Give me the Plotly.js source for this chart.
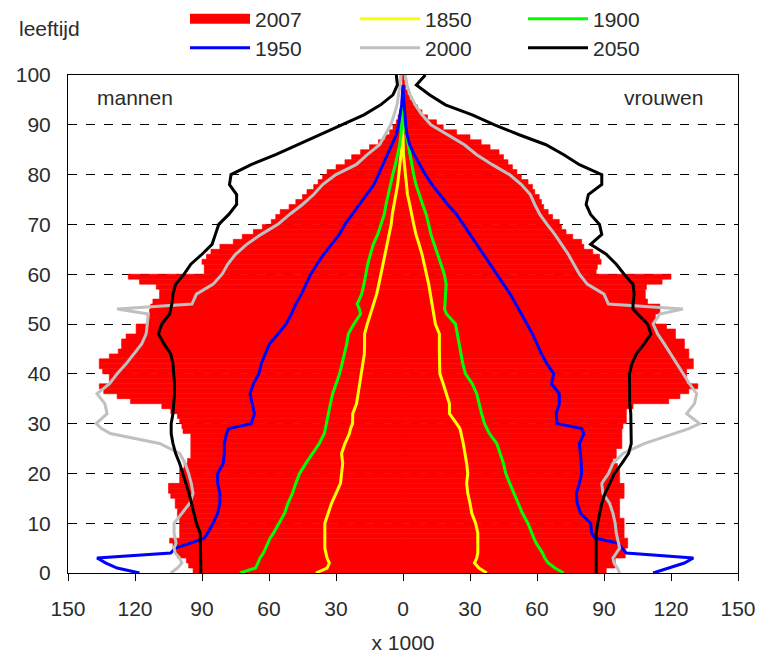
<!DOCTYPE html>
<html><head><meta charset="utf-8">
<script src="https://cdn.plot.ly/plotly-3.0.1.min.js"></script>
<style>html,body{margin:0;padding:0;background:#fff;} #chart{width:757px;height:656px;}</style>
</head><body><div id="chart"></div>
<script>
// ---- data (population x 1000) ----
const barAges = [0,1,2,3,4,5,6,7,8,9,10,11,12,13,14,15,16,17,18,19,20,21,22,23,24,25,26,27,28,29,30,31,32,33,34,35,36,37,38,39,40,41,42,43,44,45,46,47,48,49,50,51,52,53,54,55,56,57,58,59,60,61,62,63,64,65,66,67,68,69,70,71,72,73,74,75,76,77,78,79,80,81,82,83,84,85,86,87,88,89,90,91,92,93,94,95,96,97,98,99];
const men2007 = [94,96,97,101,102,103,104.5,100,100,100,100,101,101,102,102,104,105,105,100,100,100,98,96.5,95,95,95,95,95,98.5,99,100,101,104,108,122,128,134,136,131.5,131.5,134.5,136,136,131.5,127.5,126,126,124,119.5,119.5,114.5,114.5,113.5,113,112,109,109,110.5,118,123,89,89,90,88,86,82,76,72,67,63,59,57,55,51,48,45,43,40,38,36,34,30,26,23,19,15,11,8,6,4.5,3,2.2,1.6,1.1,0.8,0.5,0.3,0.2,0.1,0.1];
const women2007 = [91,95,95,99.5,99.5,100.6,100.6,99,99,99,99,97,97,97,97,99,99,99,97,97,97,96,94,95.5,95.5,98,98,98,98,98.5,100,100,100,103,119,124,128,132,127,127,127,130,130,128,128,126,126,122,122,118,113,113,115,115,109.5,108.5,108.5,109,116,120,86.5,87,88.7,88,85,81,80,76,73,71,70,67,65,63,62,61,59,58,56,53,51,49,47,45,43,39,35,30,24,18,15,11,8.5,6.5,4.5,3,2,1.2,0.7,0.4];

const lineAges = [0,1,2,3,4,5,6,7,8,10,12,14,16,18,20,22,24,26,28,29,30,32,34,36,38,40,42,44,46,48,50,52,53,54,56,58,60,62,64,66,68,70,72,74,76,78,80,82,84,86,88,90,92,94,96,98,100];

const men1850 = [39,34,33,34,34.5,35,35,35,35, 35,33.5,32,30,28,27.5,27,27.5,26,24, 23.5,22.6, 22.5,20.8,20,19.5,18.7,18,17.3,17.2,17.2,16,14.5, 14,13, 11.8,10.8,9.9,9,8,7,6,5.3,4.8,4,3,2.4,1.9,1.4,0.8,0.4,0.2,0.1,null,null,null,null,null];
const women1850 = [37.5,34,32,33,33.5,33.5,33.5,33.5,33.5, 32.5,30.8,30,29,28.5,29,28.5,27.8,27,26, 25.5,24, 20.8,20.8,19.5,18,16.5,16.3,16.3,16.3,16.3,14.5,13.8, 13.5,13, 12.4,11.5,10.5,9.6,8.5,7.2,5.8,4.8,4,3,2,1.5,1,0.5,0.2,0.1,0,null,null,null,null,null,null];

const men1900 = [73,66,65,64,62.5,61.5,60.5,59.5,58, 55.5,53,51.5,49.5,48,46.3,43.5,40.5,37.5,35.2, 34.8,34.4, 33.3,32.5,31.5,30,28.4,27.3,26.2,25.2,24.5,22,19, 19.5,20.5, 18.5,17.5,16.8,15.8,14.6,13.3,11.3,9.7,8.4,7.6,6.7,5.8,4.6,3.4,2.3,1.5,0.9,0.5,0.3,0.1,null,null,null];
const women1900 = [72,68,65,63.5,62.5,61,59.6,58.6,57.8, 55.9,53.5,51.5,49.5,47.8,46,45,43.5,42,38.7, 37.5,36.5, 35.2,34,33,31,28,26.8,26,25,24.2,23.5,19.5, 18.6,18.8, 19,19.3,18.5,17,15.5,14,12.5,11.5,10.4,8.8,7.2,5.8,4.8,4,3.2,2.2,1.3,0.7,0.4,0.2,null,null,null];

const men1950 = [118,128,133,137,104,102,95,89,87.5, 85,83,82,82,83,83,80.5,80,80,79, 78,68, 66.5,67.5,68.5,67,64.5,63.5,61.5,59.8,56,52.3,50, 49,48, 45.5,43.5,41.3,38.5,35.5,32,28.5,26,22.8,19.5,16,13,11,9,7,4.8,3,2,1.2,0.6,0.3,0,null];
const women1950 = [112,119,126,130,100,98,96,86,84.5, 84,79.5,78,77.6,79,80,79.8,79.5,79,81, 80,69, 68.6,70,70,66.5,67.5,64.5,62,60,58,55.5,53, 52,50.5, 48,45,42,39,36,32.8,30,27,24,20,16.5,13,10,7.5,5,3,1.8,1.2,0.8,0.5,0.2,0,null];

const men2000 = [104,101,99,100,102,102.5,101.6,102,102.5, 102.5,99,95.5,94,94.8,96,97.5,100,109,131, 135,137.4, 132.5,133.5,137,131.4,128,124,120.5,117,115,114.5,114, 128,94.5, 92.5,85,81,78.5,75,70,63.5,56,50.8,45,40,36,30,21,16,10.5,8,5.5,4,2.7,2,1.3,1];
const women2000 = [97,96,94.5,94,95.5,97,96.5,96,95.5, 95,94,92.5,89.5,89,92,94,98.5,108,121, 128,132.8, 127,130.5,131.5,128.3,125.5,123,120,117,114,112,115, 125.3,92, 90,82.5,79,76.5,74,71,68,64.5,61.3,59,57,53,47.7,40,33,27.5,20,12.5,8.5,5.5,3.2,1.8,1];

const men2050 = [90.5,90.5,90.5,90.5,90.5,90.5,90.5,90.5,90.8, 92.5,93.5,94.5,95.8,97.2,98.6,100,101.8,103,103.8, 103.8,103.8, 103,102.5,102.3,102.3,102.5,103,104,107,109.5,108,104.5, 104,103.5, 103,101.8,98,95,90,85.5,84,82.5,78,74.5,74.5,77.7,77,68,57,47,37,27,17.5,10,4.5,2.5,3];
const women2050 = [86.5,86.5,86.5,86.4,86.3,86.3,86.3,86.3,86.5, 87.2,88,89,90.5,92.5,94.7,98,101,102.2,102.2, 102.2,102.2, 102,101.5,101.4,101.4,101.4,102.5,104.5,108,111,109.5,105, 103,103, 103.5,103,99,95.5,91,84,89,88,84,82,83,89,89,79,72,64,52,41,31,19,12,6,10];

const xTickVals = [-150,-120,-90,-60,-30,0,30,60,90,120,150];
const xTickText = ['150','120','90','60','30','0','30','60','90','120','150'];

// ---- styling ----
const FONT = 'Liberation Sans, Arial, sans-serif';
const TXT = '#2b2b2b';
const neg = a => a.map(v => (v === null ? null : -v));

const lineSeries = [
  {name:'1850', color:'#FFFF00', men:men1850, women:women1850, legend:'legend2'},
  {name:'1900', color:'#00FF00', men:men1900, women:women1900, legend:'legend3'},
  {name:'1950', color:'#0000FF', men:men1950, women:women1950, legend:'legend4'},
  {name:'2000', color:'#C0C0C0', men:men2000, women:women2000, legend:'legend5'},
  {name:'2050', color:'#000000', men:men2050, women:women2050, legend:'legend6'}
];

const traces = [
  {type:'bar', orientation:'h', name:'2007', y:barAges, x:neg(men2007), width:1, offset:0,
   marker:{color:'#FF0000', line:{color:'#FF0000', width:0.6}}, showlegend:false},
  {type:'bar', orientation:'h', name:'2007', y:barAges, x:women2007, width:1, offset:0,
   marker:{color:'#FF0000', line:{color:'#FF0000', width:0.6}}, showlegend:false},
  // legend entry for the 2007 bars (draws no marks)
  {type:'scatter', mode:'lines', name:'2007', x:[null], y:[null], line:{color:'#FF0000', width:14},
   legend:'legend', showlegend:true}
];
lineSeries.forEach(s => {
  traces.push({type:'scatter', mode:'lines', name:s.name, x:neg(s.men), y:lineAges,
    line:{color:s.color, width:3}, legend:s.legend, showlegend:true});
  traces.push({type:'scatter', mode:'lines', name:s.name, x:s.women, y:lineAges,
    line:{color:s.color, width:3}, legend:s.legend, showlegend:false});
});

const legendBase = {orientation:'h', xref:'container', yref:'container', xanchor:'left', yanchor:'middle',
  itemwidth:60, font:{family:FONT, size:21, color:TXT}, bgcolor:'rgba(0,0,0,0)', borderwidth:0,
  traceorder:'normal', itemclick:false, itemdoubleclick:false};
const lx = [185, 355, 523];
const ly = [19, 48];
const leg = (c, r) => Object.assign({}, legendBase, {x:lx[c]/757, y:1-ly[r]/656});

const layout = {
  width:757, height:656,
  margin:{l:68, r:19, t:75, b:83},
  paper_bgcolor:'#ffffff', plot_bgcolor:'#ffffff',
  font:{family:FONT, size:21, color:TXT},
  barmode:'overlay', bargap:0,
  hovermode:false,
  xaxis:{range:[-150,150], tickvals:xTickVals, ticktext:xTickText, ticks:'outside', ticklen:7, tickwidth:1, tickcolor:'#000',
    showline:true, linecolor:'#000', linewidth:1, mirror:true, showgrid:false, zeroline:false,
    ticklabelstandoff:10, tickfont:{family:FONT, size:21, color:TXT},
    title:{text:'x 1000', standoff:16, font:{family:FONT, size:21, color:TXT}}, fixedrange:true},
  yaxis:{range:[0,100], tick0:0, dtick:10, ticks:'', showline:true, linecolor:'#000', linewidth:1, mirror:true,
    showgrid:true, gridcolor:'#000', griddash:'dash', gridwidth:1, zeroline:false,
    ticklabelstandoff:12, tickfont:{family:FONT, size:21, color:TXT}, fixedrange:true},
  yaxis2:{overlaying:'y', anchor:'free', position:0.5, side:'left', range:[0,100], tick0:0, dtick:5,
    ticks:'outside', ticklen:4, tickwidth:1, tickcolor:'#000', showline:true, linecolor:'#000', linewidth:2,
    showticklabels:false, showgrid:false, zeroline:false, fixedrange:true},
  yaxis3:{overlaying:'y', anchor:'free', position:0.5, side:'right', range:[0,100], tick0:0, dtick:5,
    ticks:'outside', ticklen:4, tickwidth:1, tickcolor:'#000', showline:false,
    showticklabels:false, showgrid:false, zeroline:false, fixedrange:true},
  legend:leg(0,0), legend2:leg(1,0), legend3:leg(2,0),
  legend4:leg(0,1), legend5:leg(1,1), legend6:leg(2,1),
  annotations:[
    {text:'leeftijd', xref:'paper', yref:'paper', x:(17-68)/670, y:(573-29)/498, xanchor:'left', yanchor:'middle', showarrow:false, font:{family:FONT, size:21, color:TXT}},
    {text:'mannen', xref:'paper', yref:'paper', x:(95-68)/670, y:(573-97)/498, xanchor:'left', yanchor:'middle', showarrow:false, font:{family:FONT, size:21, color:TXT}},
    {text:'vrouwen', xref:'paper', yref:'paper', x:(705-68)/670, y:(573-97)/498, xanchor:'right', yanchor:'middle', showarrow:false, font:{family:FONT, size:21, color:TXT}}
  ]
};

Plotly.newPlot('chart', traces, layout, {displayModeBar:false, staticPlot:true});
</script></body></html>
